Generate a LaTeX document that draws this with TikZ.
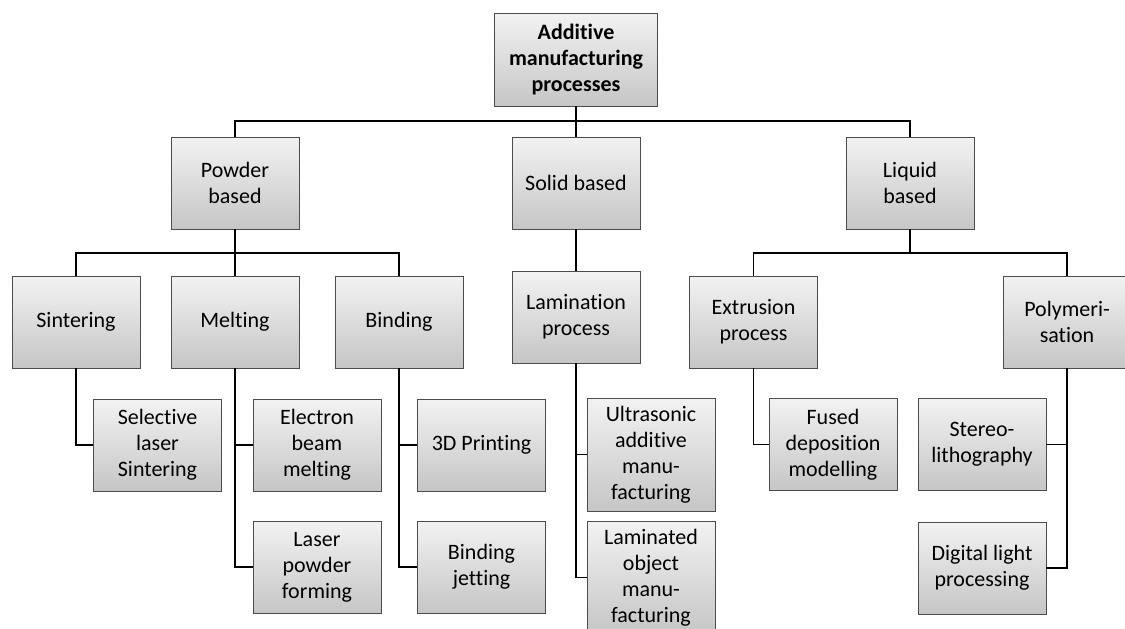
\documentclass[tikz,border=0pt]{standalone}
\usepackage{fontspec}
\setmainfont{Carlito}[Ligatures={NoCommon,NoRare}]
\usetikzlibrary{positioning}

\begin{document}
\begin{tikzpicture}[x=1pt,y=-1pt,semithick]
\tikzstyle{every node}=[font=\fontsize{22}{26}\selectfont,text=black]
\tikzstyle{box}=[rectangle,draw=black!70,thin,top color=gray!10,bottom color=gray!45,minimum width=128pt,minimum height=92pt,inner sep=0pt,align=center]
\tikzstyle{tall}=[box,minimum height=113pt]
\tikzstyle{link}=[draw=black,line width=1.5pt]
\clip (0,0) rectangle (1125,629);

\node[box,minimum width=163pt,minimum height=93pt] (root) at (576,59.5) {\textbf{Additive}\\\textbf{manufacturing}\\\textbf{processes}};

\node[box] (powder) at (235,183)   {Powder\\based};
\node[box] (solid)  at (576,183)   {Solid based};
\node[box] (liquid) at (910,183)   {Liquid\\based};

\node[box] (sinter) at (76,322)    {Sintering};
\node[box] (melt)   at (235,322)   {Melting};
\node[box] (bind)   at (399,322)   {Binding};
\node[box] (lamin)  at (576,317)   {Lamination\\process};
\node[box] (extru)  at (753.5,322) {Extrusion\\process};
\node[box] (poly)   at (1067,322)  {Polymeri-\\sation};

\node[box]  (sls)   at (157.5,445) {Selective\\laser\\Sintering};
\node[box]  (ebm)   at (317,445)   {Electron\\beam\\melting};
\node[box]  (lpf)   at (317,567)   {Laser\\powder\\forming};
\node[box]  (print) at (481.5,445) {3D Printing};
\node[box]  (bjet)  at (481.5,567) {Binding\\jetting};
\node[tall] (uam)   at (651,454.5) {Ultrasonic\\additive\\manu-\\facturing};
\node[tall] (lom)   at (651,577.5) {Laminated\\object\\manu-\\facturing};
\node[box]  (fdm)   at (833,444.5) {Fused\\deposition\\modelling};
\node[box]  (sla)   at (982,444.5) {Stereo-\\lithography};
\node[box]  (dlp)   at (982,568)   {Digital light\\processing};

% first level
\draw[link] (root.south) -- (solid.north);
\draw[link] (powder.north) -- ++(0,-16) -| (liquid.north);
% powder branch
\draw[link] (powder.south) -- (melt.north);
\draw[link] (sinter.north) -- ++(0,-23) -| (bind.north);
\draw[link] (sinter.south) |- (sls.west);
\draw[link] (melt.south) |- (ebm.west);
\draw[link] (melt.south) |- (lpf.west);
\draw[link] (bind.south) |- (print.west);
\draw[link] (bind.south) |- (bjet.west);
% solid branch
\draw[link] (solid.south) -- (lamin.north);
\draw[link] (lamin.south) |- (uam.west);
\draw[link] (lamin.south) |- (lom.west);
% liquid branch
\draw[link] (liquid.south) -- ++(0,24);
\draw[link] (extru.north) -- ++(0,-23) -| (poly.north);
\draw[link] (extru.south) |- (fdm.west);
\draw[link] (poly.south) |- (sla.east);
\draw[link] (poly.south) |- (dlp.east);
\end{tikzpicture}
\end{document}
